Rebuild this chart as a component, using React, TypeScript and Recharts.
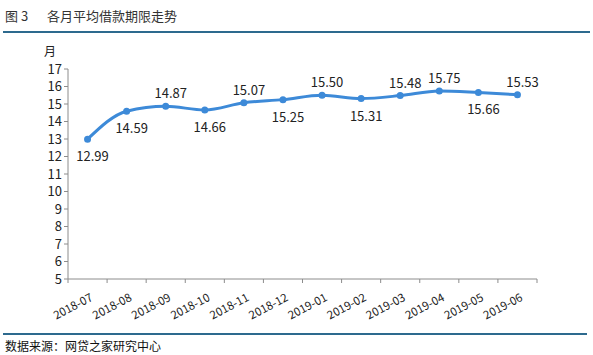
import { CartesianGrid, LabelList, Line, LineChart, XAxis, YAxis } from "recharts";

const months = [
  "2018-07", "2018-08", "2018-09", "2018-10", "2018-11", "2018-12",
  "2019-01", "2019-02", "2019-03", "2019-04", "2019-05", "2019-06",
];
const avgTerm = [12.99, 14.59, 14.87, 14.66, 15.07, 15.25, 15.5, 15.31, 15.48, 15.75, 15.66, 15.53];
const yTicks = [5, 6, 7, 8, 9, 10, 11, 12, 13, 14, 15, 16, 17];

// which labels sit under the line
const belowIdx = new Set([0, 1, 3, 5, 7, 10]);

const data = months.map((m, i) => ({ month: m, term: avgTerm[i] }));

const FONT = '"Microsoft YaHei", "Noto Sans CJK SC", sans-serif';
const LINE_COLOR = "#3d8ad8";
const AXIS_COLOR = "#8c8c8c";

const W = 593;
const H = 355;
const M = { top: 69, right: 56, bottom: 26, left: 0 };
const Y_W = 68;
const BAND = (W - M.left - M.right - Y_W) / months.length;

function XTick(props: any) {
  const { x, y, index, payload } = props;
  const left = x - BAND / 2;
  const axisY = y - 8;
  const tx = x + 6;
  const ty = y + 13;
  return (
    <g>
      <line x1={left} y1={axisY} x2={left} y2={axisY + 4} stroke={AXIS_COLOR} />
      {index === months.length - 1 && (
        <line x1={x + BAND / 2} y1={axisY} x2={x + BAND / 2} y2={axisY + 4} stroke={AXIS_COLOR} />
      )}
      <text
        x={tx}
        y={ty}
        textAnchor="end"
        fontSize={11.5}
        fill="#222"
        fontFamily={FONT}
        transform={`rotate(-28, ${tx}, ${ty})`}
      >
        {payload.value}
      </text>
    </g>
  );
}

function TermLabel(props: any) {
  const { x, y, index, value } = props;
  const below = belowIdx.has(index);
  return (
    <text
      x={x + 5}
      y={below ? y + 22 : y - 8}
      textAnchor="middle"
      fontSize={13}
      fill="#222"
      fontFamily={FONT}
    >
      {Number(value).toFixed(2)}
    </text>
  );
}

export default function App() {
  return (
    <div
      style={{
        position: "fixed",
        left: 0,
        top: 0,
        width: W,
        height: H,
        background: "#fff",
        fontFamily: FONT,
      }}
    >
      <div style={{ position: "absolute", left: 5, top: 6, fontSize: 13, color: "#333" }}>
        图 3
      </div>
      <div style={{ position: "absolute", left: 47, top: 6, fontSize: 13, color: "#333" }}>
        各月平均借款期限走势
      </div>
      <div
        style={{ position: "absolute", left: 3, top: 31, width: 587, height: 2, background: "#2d6a8e" }}
      />
      <div style={{ position: "absolute", left: 44, top: 42, fontSize: 12, color: "#222" }}>月</div>
      <LineChart width={W} height={H} data={data} margin={M}>
        <CartesianGrid stroke="none" />
        <XAxis
          dataKey="month"
          stroke={AXIS_COLOR}
          tickLine={false}
          tick={<XTick />}
          interval={0}
          height={50}
          padding={{ left: BAND / 2, right: BAND / 2 }}
        />
        <YAxis
          domain={[5, 17]}
          ticks={yTicks}
          interval={0}
          width={Y_W}
          stroke={AXIS_COLOR}
          tickSize={4}
          tick={{ fontSize: 13, fill: "#222", fontFamily: FONT }}
        />
        <Line
          type="monotone"
          dataKey="term"
          stroke={LINE_COLOR}
          strokeWidth={3}
          dot={{ r: 2, fill: LINE_COLOR, stroke: LINE_COLOR }}
          isAnimationActive={false}
        >
          <LabelList dataKey="term" content={<TermLabel />} />
        </Line>
      </LineChart>
      <div
        style={{ position: "absolute", left: 3, top: 333, width: 584, height: 2, background: "#2d6a8e" }}
      />
      <div style={{ position: "absolute", left: 5, top: 337, fontSize: 12, color: "#111" }}>
        数据来源：网贷之家研究中心
      </div>
    </div>
  );
}
